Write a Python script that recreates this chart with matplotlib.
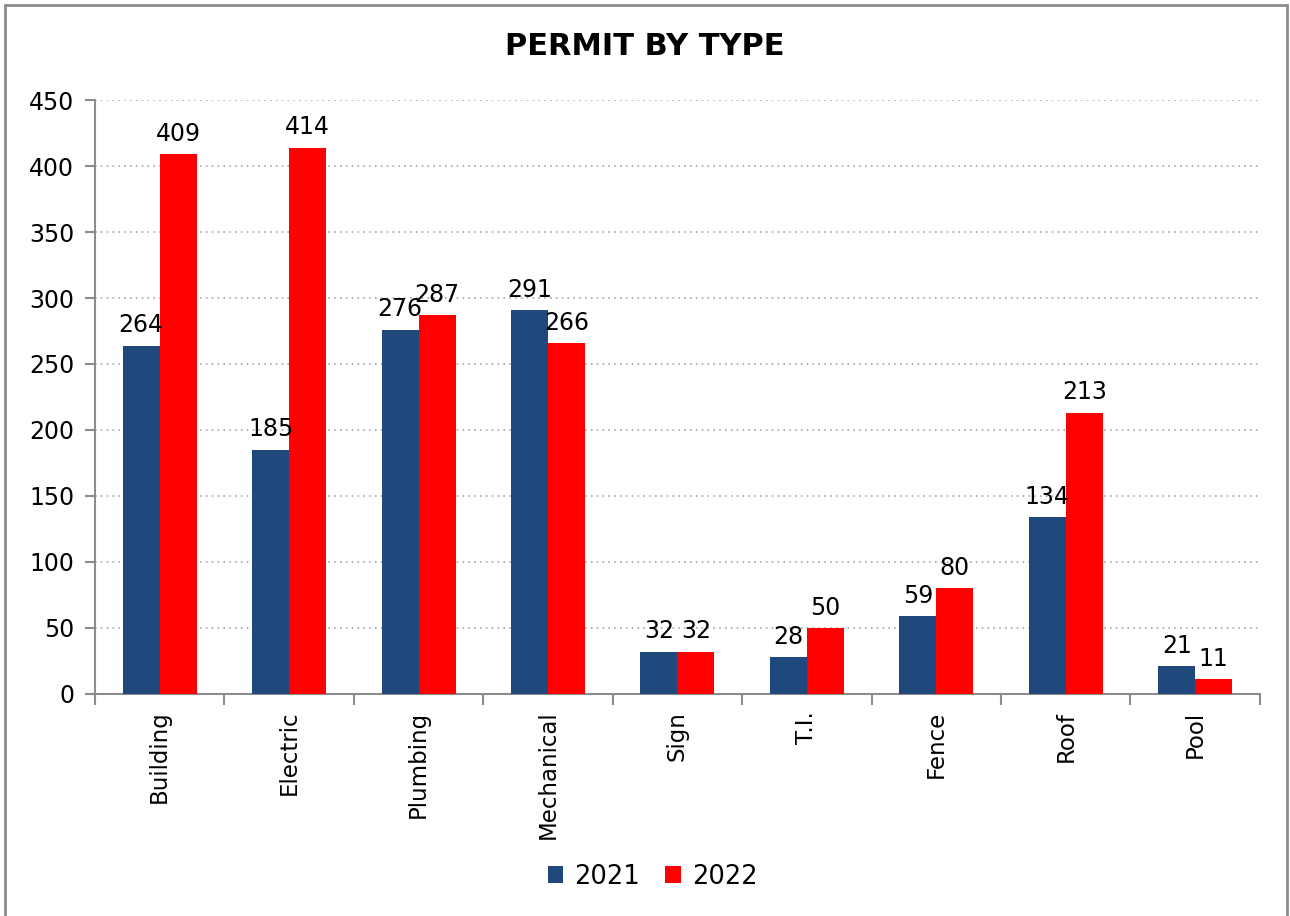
import matplotlib
matplotlib.use("Agg")
import matplotlib.pyplot as plt
import numpy as np
from matplotlib.patches import Rectangle

categories = ["Building", "Electric", "Plumbing", "Mechanical", "Sign", "T.I.", "Fence", "Roof", "Pool"]
permits_2021 = [264, 185, 276, 291, 32, 28, 59, 134, 21]
permits_2022 = [409, 414, 287, 266, 32, 50, 80, 213, 11]
series_names = ["2021", "2022"]
yticks = [0, 50, 100, 150, 200, 250, 300, 350, 400, 450]

navy = "#1F497D"
red = "#FF0000"
axis_gray = "#8C8C8C"

plt.rcParams["font.family"] = ["DejaVu Sans"]

fig = plt.figure(figsize=(12.9, 9.16), dpi=100)
ax = fig.add_axes([0.0736, 0.2424, 0.9031, 0.6484])

x = np.arange(len(categories))
w = 0.2857
b1 = ax.bar(x - w / 2, permits_2021, w, color=navy, label=series_names[0], zorder=3)
b2 = ax.bar(x + w / 2, permits_2022, w, color=red, label=series_names[1], zorder=3)

for bars, vals in ((b1, permits_2021), (b2, permits_2022)):
    for rect, v in zip(bars, vals):
        ax.annotate(str(v), (rect.get_x() + rect.get_width() / 2, v),
                    xytext=(0, 6), textcoords="offset points",
                    ha="center", va="bottom", fontsize=17, color="black", zorder=4)

ax.set_xlim(-0.5, len(categories) - 0.5)
ax.set_ylim(0, 450)
ax.set_yticks(yticks)
ax.tick_params(axis="y", labelsize=17, length=7, width=1.5, color=axis_gray, pad=8)
ax.yaxis.grid(True, linestyle=(0, (1, 2.5)), color="#A6A6A6", linewidth=1.2, zorder=0)

ax.set_xticks(x)
ax.set_xticklabels(categories, rotation=90, fontsize=16.5)
ax.tick_params(axis="x", length=0, pad=12)
ax.set_xticks(np.arange(-0.5, len(categories), 1), minor=True)
ax.tick_params(axis="x", which="minor", length=8, width=1.5, color=axis_gray)

for s in ("top", "right"):
    ax.spines[s].set_visible(False)
for s in ("left", "bottom"):
    ax.spines[s].set_color(axis_gray)
    ax.spines[s].set_linewidth(1.5)

fig.suptitle("PERMIT BY TYPE", x=0.5, y=0.965, fontsize=22, fontweight="bold", va="top")

fig.legend(handles=[b1, b2], labels=series_names, loc="center", bbox_to_anchor=(0.506, 0.043),
           ncol=2, frameon=False, fontsize=18.5, handlelength=0.6, handleheight=0.6,
           handletextpad=0.45, columnspacing=0.97)

fig.patches.append(Rectangle((5 / 1290, -0.05), 1282 / 1290, 0.05 + 911 / 916,
                             transform=fig.transFigure, fill=False,
                             edgecolor=axis_gray, linewidth=2))

fig.savefig("out.png", dpi=100, facecolor="white")
